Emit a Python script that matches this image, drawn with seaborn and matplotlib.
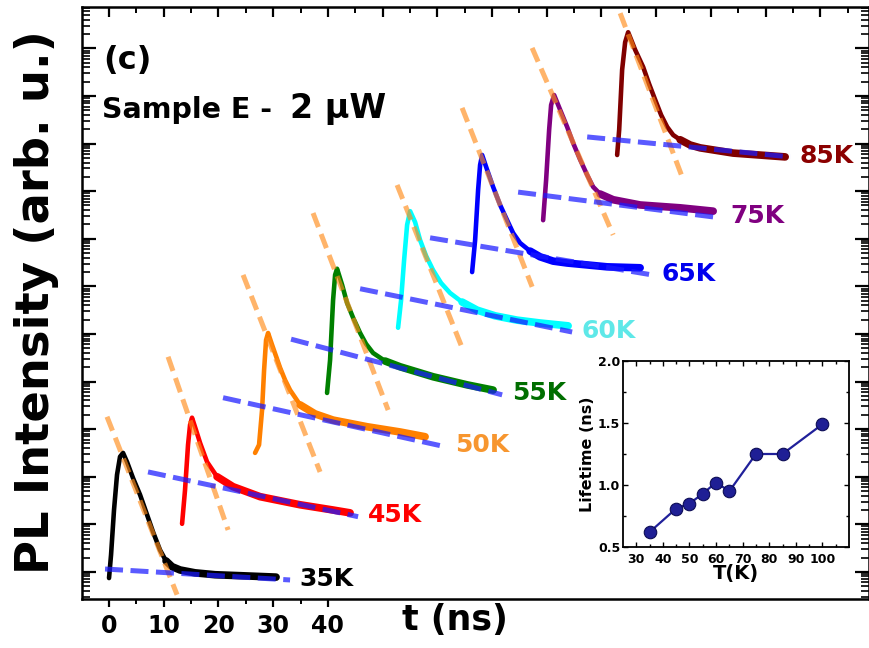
import numpy as np
import pandas as pd
import matplotlib
matplotlib.use('Agg')
import matplotlib.pyplot as plt
import seaborn as sns
from matplotlib.ticker import MultipleLocator, FixedLocator, LogLocator, NullFormatter

# ---------------- data ----------------
temps = ['35K', '45K', '50K', '55K', '60K', '65K', '75K', '85K']
curve_colors = ['#000000', '#ff0000', '#ff8000', '#008000', '#00ffff', '#0000ff', '#800080', '#800000']
label_colors = ['#000000', '#ff0000', '#f7962f', '#006e00', '#5ee8e8', '#0000ee', '#800080', '#8b0000']

# time (ns) and log10(PL intensity) of each (vertically offset) transient
t_35K = [0.0, 0.37, 0.91, 1.46, 2.01, 2.56, 3.29, 4.39, 5.67, 6.95, 8.04, 9.32, 10.42, 11.52, 12.98, 15.72, 19.38, 23.95, 30.53]
logI_35K = [0.87, 1.36, 2.30, 3.04, 3.42, 3.50, 3.31, 2.97, 2.62, 2.20, 1.84, 1.46, 1.23, 1.11, 1.04, 0.98, 0.94, 0.92, 0.89]

t_45K = [13.35, 13.89, 14.44, 14.81, 15.17, 15.90, 16.64, 17.92, 19.74, 22.67, 27.61, 34.92, 40.95, 44.06]
logI_45K = [2.01, 2.72, 3.67, 4.09, 4.24, 3.98, 3.71, 3.31, 3.00, 2.79, 2.58, 2.41, 2.30, 2.24]

t_50K = [26.69, 27.42, 27.97, 28.34, 28.70, 29.07, 29.80, 31.26, 32.18, 33.09, 34.92, 37.66, 40.95, 47.17, 53.20, 57.77]
logI_50K = [3.50, 3.67, 4.40, 5.24, 5.87, 6.02, 5.77, 5.29, 5.03, 4.82, 4.51, 4.32, 4.19, 4.05, 3.94, 3.84]

t_55K = [39.85, 40.40, 40.95, 41.32, 41.68, 42.60, 43.51, 44.61, 45.89, 46.98, 48.26, 50.46, 53.20, 59.23, 65.45, 70.20]
logI_55K = [4.76, 5.45, 6.71, 7.24, 7.37, 7.03, 6.65, 6.34, 6.02, 5.79, 5.60, 5.43, 5.31, 5.10, 4.93, 4.82]

t_60K = [52.83, 53.38, 53.93, 54.48, 55.03, 55.94, 56.86, 57.95, 59.23, 60.69, 62.34, 64.53, 67.28, 70.57, 74.59, 78.79, 83.91]
logI_60K = [6.13, 6.71, 7.55, 8.29, 8.58, 8.35, 7.97, 7.64, 7.34, 7.07, 6.86, 6.67, 6.50, 6.38, 6.29, 6.23, 6.17]

t_65K = [66.36, 66.91, 67.46, 67.82, 68.19, 69.10, 70.20, 71.48, 72.76, 73.86, 75.14, 76.97, 78.79, 81.17, 83.73, 91.04, 97.07]
logI_65K = [7.30, 7.97, 9.03, 9.55, 9.76, 9.45, 9.09, 8.71, 8.39, 8.12, 7.91, 7.74, 7.62, 7.53, 7.49, 7.41, 7.39]

t_75K = [79.34, 79.89, 80.44, 80.80, 81.35, 82.45, 83.73, 84.83, 86.11, 87.39, 88.48, 89.76, 92.14, 97.07, 104.39, 110.42]
logI_75K = [8.39, 9.24, 10.29, 10.81, 11.02, 10.71, 10.35, 10.01, 9.66, 9.34, 9.09, 8.94, 8.82, 8.71, 8.65, 8.58]

t_85K = [92.87, 93.24, 93.78, 94.33, 94.88, 96.16, 97.62, 98.72, 99.82, 100.91, 102.01, 103.11, 104.39, 106.22, 108.04, 114.08, 123.58]
logI_85K = [9.76, 10.29, 11.55, 12.13, 12.34, 11.97, 11.61, 11.25, 10.92, 10.60, 10.35, 10.18, 10.08, 9.97, 9.91, 9.80, 9.72]

# time where the noisy slow tail of each transient begins
tail_start_t = [10.4, 19.7, 34.9, 48.3, 64.5, 76.9, 89.7, 104.3]

# fast (orange) and slow (blue) exponential fits: end points (t, log10 I)
fast_fit_t = [[-0.37, 12.43], [10.79, 21.76], [24.50, 38.57], [37.29, 51.01],
              [52.65, 64.53], [64.53, 77.33], [77.33, 92.14], [93.42, 104.75]]
fast_fit_logI = [[4.26, 0.52], [5.52, 1.88], [7.24, 3.10], [8.54, 4.40],
                 [9.13, 5.71], [10.75, 6.99], [12.01, 8.08], [12.74, 9.30]]
slow_fit_t = [[-0.73, 33.09], [7.13, 45.52], [20.84, 61.43], [33.27, 71.85],
              [45.89, 84.64], [58.68, 99.27], [74.77, 111.70], [87.39, 124.50]]
slow_fit_logI = [[1.06, 0.83], [3.10, 2.16], [4.66, 3.63], [5.89, 4.72],
                 [6.95, 6.04], [8.02, 7.24], [8.98, 8.44], [10.14, 9.72]]

x_tick_values = [0, 10, 20, 30, 40]

# inset
T_K = [35, 45, 50, 55, 60, 65, 75, 85, 100]
lifetime_ns = [0.62, 0.81, 0.85, 0.93, 1.02, 0.95, 1.25, 1.25, 1.49]

# ---------------- style ----------------
sns.set_style('ticks')
plt.rcParams['font.family'] = ['DejaVu Sans']
plt.rcParams['font.weight'] = 'bold'
plt.rcParams['axes.labelweight'] = 'bold'
for key in ['text.color', 'axes.labelcolor', 'xtick.color', 'ytick.color', 'axes.edgecolor']:
    plt.rcParams[key] = 'black'

fig = plt.figure(figsize=(8.7, 6.48), dpi=100)
ax = fig.add_axes([82 / 870, 1 - 599 / 648, 787 / 870, 592 / 648])

curves_t = [t_35K, t_45K, t_50K, t_55K, t_60K, t_65K, t_75K, t_85K]
curves_L = [logI_35K, logI_45K, logI_50K, logI_55K, logI_60K, logI_65K, logI_75K, logI_85K]
rows = []
for name, ts, ls in zip(temps, curves_t, curves_L):
    for tt, ll in zip(ts, ls):
        rows.append({'t': tt, 'I': 10.0 ** ll, 'T': name})
df = pd.DataFrame(rows)
pal = dict(zip(temps, curve_colors))

sns.lineplot(data=df, x='t', y='I', hue='T', palette=pal,
             estimator=None, sort=False, lw=3.3, legend=False, ax=ax,
             solid_capstyle='round', solid_joinstyle='round')

# thicker (noisy-looking) tails
tail_rows = []
for name, t0 in zip(temps, tail_start_t):
    sub = df[(df['T'] == name) & (df['t'] >= t0)]
    tail_rows.append(sub)
df_tail = pd.concat(tail_rows)
sns.lineplot(data=df_tail, x='t', y='I', hue='T', palette=pal,
             estimator=None, sort=False, lw=5.5, legend=False, ax=ax,
             solid_capstyle='round', solid_joinstyle='round')

for i in range(len(temps)):
    ax.plot(fast_fit_t[i], [10.0 ** v for v in fast_fit_logI[i]], color='#ff8c1a', alpha=0.65,
            lw=3.6, dashes=(3.0, 1.5), zorder=5)
    ax.plot(slow_fit_t[i], [10.0 ** v for v in slow_fit_logI[i]], color='#1a1aff', alpha=0.72,
            lw=3.6, dashes=(3.6, 1.5), zorder=6)
    ax.annotate(temps[i], xy=(slow_fit_t[i][1], 10.0 ** slow_fit_logI[i][1]),
                xytext=(7, 1), textcoords='offset points', ha='left', va='center',
                fontsize=18, fontweight='bold', color=label_colors[i])

ax.set_yscale('log')
ax.set_xlim(-4.94, 138.9)
ax.set_ylim(10 ** 0.43, 10 ** 12.87)
ax.set_xlabel('')
ax.set_ylabel('')

ax.yaxis.set_major_locator(LogLocator(base=10, numticks=30))
ax.yaxis.set_minor_locator(LogLocator(base=10, subs=np.arange(2, 10), numticks=300))
ax.yaxis.set_major_formatter(NullFormatter())
ax.yaxis.set_minor_formatter(NullFormatter())
ax.tick_params(axis='y', which='major', direction='in', length=10, width=1.6, left=True, right=True)
ax.tick_params(axis='y', which='minor', direction='in', length=5.5, width=1.2, left=True, right=True)

ax.xaxis.set_major_locator(FixedLocator(x_tick_values))
ax.xaxis.set_minor_locator(FixedLocator([5, 15, 25, 35]))
ax.set_xticklabels([str(v) for v in x_tick_values])
ax.tick_params(axis='x', which='major', direction='out', length=6, width=1.6, labelsize=17, pad=5, top=False)
ax.tick_params(axis='x', which='minor', direction='out', length=3.5, width=1.4, top=False)
for lbl in ax.get_xticklabels():
    lbl.set_fontweight('bold')

axt = ax.twiny()
axt.set_xlim(ax.get_xlim())
axt.xaxis.set_major_locator(MultipleLocator(10))
axt.xaxis.set_minor_locator(MultipleLocator(5))
axt.tick_params(axis='x', which='major', direction='in', length=7, width=1.6, labeltop=False)
axt.tick_params(axis='x', which='minor', direction='in', length=4, width=1.4)
for sp in axt.spines.values():
    sp.set_visible(False)

for sp in ax.spines.values():
    sp.set_linewidth(1.8)
    sp.set_visible(True)

fig.text(37 / 870, 1 - 302 / 648, 'PL Intensity (arb. u.)', rotation=90, ha='center', va='center',
         fontsize=33.5, fontweight='bold')
fig.text(455 / 870, 1 - 620 / 648, 't (ns)', ha='center', va='center', fontsize=25, fontweight='bold')
fig.text(103 / 870, 1 - 61 / 648, '(c)', ha='left', va='center', fontsize=23, fontweight='bold')
fig.text(102 / 870, 1 - 118 / 648, 'Sample E -', ha='left', va='baseline', fontsize=20.5, fontweight='bold')
fig.text(290 / 870, 1 - 118 / 648, '2 \u03bcW', ha='left', va='baseline', fontsize=24, fontweight='bold')

# ---------------- inset ----------------
axi = fig.add_axes([623 / 870, 1 - 547 / 648, 226 / 870, 186 / 648])
sns.lineplot(x=T_K, y=lifetime_ns, ax=axi, color='#20209a', lw=1.6, marker='o', markersize=9,
             markerfacecolor='#1f1f95', markeredgecolor='#0c0c55', markeredgewidth=0.8)
axi.set_xlim(25, 110)
axi.set_ylim(0.5, 2.0)
axi.xaxis.set_major_locator(FixedLocator([30, 40, 50, 60, 70, 80, 90, 100]))
axi.xaxis.set_minor_locator(FixedLocator([35, 45, 55, 65, 75, 85, 95, 105]))
axi.yaxis.set_major_locator(MultipleLocator(0.5))
axi.yaxis.set_minor_locator(MultipleLocator(0.25))
axi.tick_params(which='both', direction='in', top=True, right=True, labelsize=9, width=1.0)
axi.tick_params(which='major', length=3.5)
axi.tick_params(which='minor', length=2)
axi.tick_params(axis='x', pad=4)
axi.tick_params(axis='y', pad=2)
for lbl in axi.get_xticklabels() + axi.get_yticklabels():
    lbl.set_fontweight('bold')
axi.set_xlabel('T(K)', fontsize=14, fontweight='bold', labelpad=-1)
axi.set_ylabel('Lifetime (ns)', fontsize=11.5, fontweight='bold', labelpad=2)
for sp in axi.spines.values():
    sp.set_linewidth(1.3)

fig.savefig('out.png', dpi=100)
